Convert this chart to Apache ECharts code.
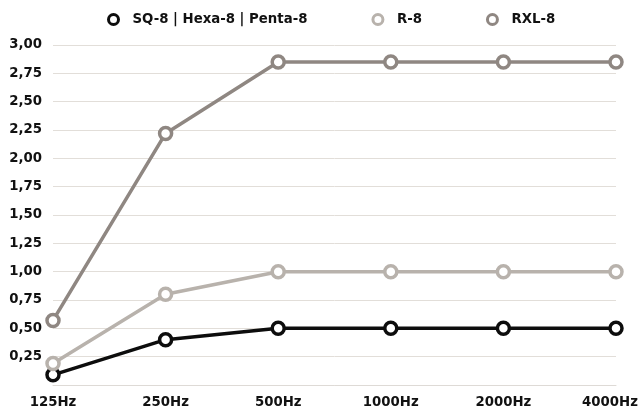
<!DOCTYPE html>
<html><head><meta charset="utf-8">
<script src="https://cdn.jsdelivr.net/npm/echarts@6/dist/echarts.min.js"></script>
<style>html,body{margin:0;padding:0;background:#fff}#c{width:643px;height:413px}</style>
</head><body><div id="c"></div>
<script>
const categories = ['125Hz','250Hz','500Hz','1000Hz','2000Hz','4000Hz'];
const seriesNames = ['SQ-8 | Hexa-8 | Penta-8','R-8','RXL-8'];
const sq8 = [0.09, 0.40, 0.50, 0.50, 0.50, 0.50];
const r8 = [0.19, 0.80, 1.00, 1.00, 1.00, 1.00];
const rxl8 = [0.57, 2.22, 2.85, 2.85, 2.85, 2.85];
const colors = ['#0d0d0d','#b8b2ac','#8f8782'];
const font = 'DejaVu Sans';
const chart = echarts.init(document.getElementById('c'));
function mk(name, data, color){
  return {name, type:'line', data, symbol:'circle', symbolSize:12,
    lineStyle:{width:3.5,color}, itemStyle:{color:'#fff', borderWidth:3.5, borderColor:color},
    emphasis:{disabled:true}};
}
const lab = {fontFamily:font, fontWeight:'bold', fontSize:13.3, color:'#111'};
chart.setOption({
  animation:false,
  color: colors,
  legend:{top:8, left:102, itemGap:64, itemWidth:10, itemHeight:10, icon:'circle',
    data: seriesNames.map(function(n,i){return {name:n, itemStyle:{color:'#fff', borderColor:colors[i], borderWidth:3}};}),
    textStyle:Object.assign({}, lab, {padding:[0,0,0,9]})},
  grid:{left:53, right:27, top:45, bottom:28, containLabel:false, outerBoundsMode:'none'},
  xAxis:{type:'category', data:categories, boundaryGap:false,
    axisLine:{show:true, lineStyle:{color:'#dedad6', width:1}}, axisTick:{show:false},
    axisLabel:Object.assign({margin:11, interval:0, hideOverlap:false,
      formatter:function(v, i){return i === categories.length - 1 ? '{e|' + v + '}' : v;},
      rich:{e:Object.assign({padding:[0,12,0,0]}, lab)}}, lab)},
  yAxis:{type:'value', min:0, max:3, interval:0.25,
    axisLine:{show:false}, axisTick:{show:false},
    splitLine:{lineStyle:{color:'#e2ded9', width:1}},
    axisLabel:Object.assign({margin:11, showMinLabel:false,
      formatter:function(v){return v===0?'':v.toFixed(2).replace('.',',');}}, lab)},
  series:[mk(seriesNames[0], sq8, colors[0]), mk(seriesNames[1], r8, colors[1]), mk(seriesNames[2], rxl8, colors[2])]
});
</script></body></html>
